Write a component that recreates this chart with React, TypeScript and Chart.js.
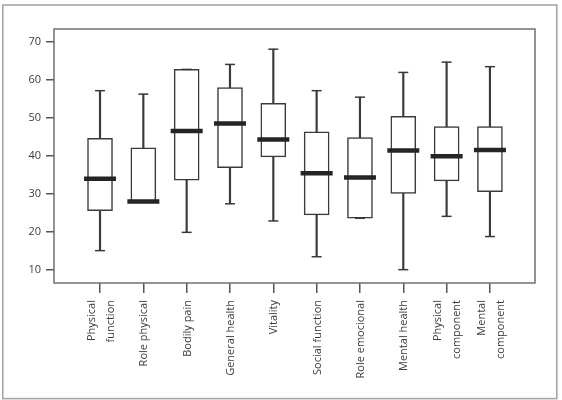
import React, { useEffect, useRef } from "react";
import { Chart, registerables } from "chart.js";

Chart.register(...registerables);

// SF-36 domain scores: five-number summary per domain
const categories: string[][] = [
  ["Physical", "function"],
  ["Role physical"],
  ["Bodily pain"],
  ["General health"],
  ["Vitality"],
  ["Social function"],
  ["Role emocional"],
  ["Mental health"],
  ["Physical", "component"],
  ["Mental", "component"],
];
const minimums = [15.1, 28.0, 19.9, 27.4, 22.9, 13.5, 23.6, 10.1, 24.1, 18.8];
const lowerQuartiles = [25.6, 28.0, 33.6, 36.9, 39.7, 24.5, 23.6, 30.1, 33.4, 30.6];
const medians = [34.0, 28.0, 46.5, 48.5, 44.3, 35.4, 34.3, 41.4, 39.9, 41.5];
const upperQuartiles = [44.6, 42.1, 62.7, 57.9, 53.8, 46.3, 44.8, 50.4, 47.7, 47.7];
const maximums = [57.1, 56.2, 62.7, 64.0, 68.0, 57.1, 55.4, 61.9, 64.6, 63.4];
const yTickValues = [10, 20, 30, 40, 50, 60, 70];

const FONT = "'Open Sans', 'DejaVu Sans', sans-serif";
const TEXT = "#3c3c3c";
const INK = "#3a3a3a";

const framePlugin = {
  id: "frames",
  beforeDraw(chart: any) {
    const { ctx, width, height } = chart;
    ctx.save();
    ctx.fillStyle = "#ffffff";
    ctx.fillRect(0, 0, width, height);
    ctx.restore();
  },
  afterDraw(chart: any) {
    const { ctx, chartArea } = chart;
    ctx.save();
    // plot frame
    ctx.strokeStyle = "#707070";
    ctx.lineWidth = 1.5;
    ctx.strokeRect(
      chartArea.left,
      chartArea.top,
      chartArea.right - chartArea.left,
      chartArea.bottom - chartArea.top
    );
    // outer figure frame
    ctx.strokeStyle = "#a6a6a6";
    ctx.lineWidth = 1.6;
    ctx.strokeRect(2.8, 5, 554, 393.6);

    // rotated category labels, multi-line labels centred on the tick
    const xScale = chart.scales.x;
    ctx.fillStyle = TEXT;
    ctx.font = `11px ${FONT}`;
    ctx.textAlign = "right";
    ctx.textBaseline = "middle";
    const lineGap = 19;
    const top = chartArea.bottom + 17;
    categories.forEach((lines, i) => {
      const x = xScale.getPixelForValue(i);
      lines.forEach((line, j) => {
        const dx = (j - (lines.length - 1) / 2) * lineGap + 1;
        ctx.save();
        ctx.translate(x + dx, top);
        ctx.rotate(-Math.PI / 2);
        ctx.fillText(line, 0, 0);
        ctx.restore();
      });
    });
    ctx.restore();
  },
};

export default function App() {
  const canvasRef = useRef<HTMLCanvasElement>(null);

  useEffect(() => {
    if (!canvasRef.current) return;
    const idx = categories.map((_, i) => i);

    const chart = new Chart(canvasRef.current, {
      type: "bar",
      data: {
        datasets: [
          {
            type: "scatter",
            label: "median",
            data: idx.map((i) => ({ x: i, y: medians[i] })),
            pointStyle: "line",
            pointRadius: 16,
            pointHoverRadius: 16,
            borderWidth: 4.5,
            borderColor: "#252525",
            backgroundColor: "#252525",
          } as any,
          {
            type: "scatter",
            label: "caps",
            data: [
              ...idx.map((i) => ({ x: i, y: maximums[i] })),
              ...idx.map((i) => ({ x: i, y: minimums[i] })),
            ],
            pointStyle: "line",
            pointRadius: 5,
            pointHoverRadius: 5,
            borderWidth: 1.5,
            borderColor: INK,
            backgroundColor: INK,
          } as any,
          {
            type: "bar",
            label: "box",
            data: idx.map((i) => ({ x: i, y: [lowerQuartiles[i], upperQuartiles[i]] })),
            backgroundColor: "#ffffff",
            borderColor: INK,
            borderWidth: 1.5,
            borderSkipped: false,
            barThickness: 25,
            grouped: false,
          } as any,
          {
            type: "bar",
            label: "whisker",
            data: idx.map((i) => ({ x: i, y: [minimums[i], maximums[i]] })),
            backgroundColor: INK,
            borderWidth: 0,
            barThickness: 1.5,
            grouped: false,
          } as any,
        ],
      },
      options: {
        responsive: false,
        devicePixelRatio: 1,
        animation: false,
        events: [],
        layout: { padding: { top: 29, right: 27, left: 0, bottom: 0 } },
        plugins: {
          legend: { display: false },
          tooltip: { enabled: false },
        },
        scales: {
          x: {
            type: "linear",
            min: -1.062,
            max: 10.04,
            offset: false,
            afterBuildTicks: (scale: any) => {
              scale.ticks = idx.map((v) => ({ value: v }));
            },
            afterFit: (scale: any) => {
              scale.height = 117;
            },
            ticks: { display: false },
            border: { display: false },
            grid: {
              offset: false,
              drawOnChartArea: false,
              drawTicks: true,
              tickLength: 10,
              color: "#555555",
              lineWidth: 1.5,
            },
          },
          y: {
            type: "linear",
            min: 6.6,
            max: 73.3,
            afterBuildTicks: (scale: any) => {
              scale.ticks = yTickValues.map((v) => ({ value: v }));
            },
            afterFit: (scale: any) => {
              scale.width = 54;
            },
            ticks: {
              color: TEXT,
              font: { family: FONT, size: 11 },
              padding: 5,
            },
            border: { display: false },
            grid: {
              drawOnChartArea: false,
              drawTicks: true,
              tickLength: 8,
              color: "#555555",
              lineWidth: 1.5,
            },
          },
        },
      } as any,
      plugins: [framePlugin],
    });

    return () => chart.destroy();
  }, []);

  return (
    <div style={{ position: "absolute", left: 0, top: 0, width: 562, height: 400, background: "#fff" }}>
      <canvas ref={canvasRef} width={562} height={400} style={{ display: "block", width: 562, height: 400 }} />
    </div>
  );
}
